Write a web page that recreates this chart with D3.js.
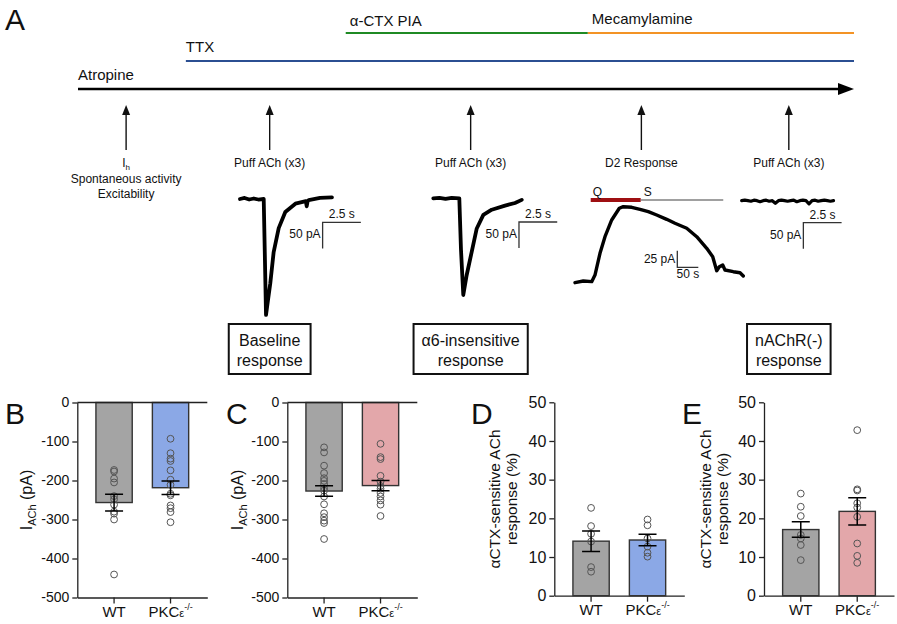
<!DOCTYPE html>
<html><head><meta charset="utf-8">
<script src="https://cdn.jsdelivr.net/npm/d3@7"></script>
<style>
body{margin:0;background:#fff}
svg{display:block}
text{font-family:"Liberation Sans",Arial,Helvetica,sans-serif;fill:#111}
</style>
</head><body>
<svg id="c" width="897" height="624"></svg>
<script>
// ================= DATA =================
// Protocol timeline (arbitrary protocol time, 0..100)
const drugNames = ["Atropine", "TTX", "α-CTX PIA", "Mecamylamine"];
const drugStart = [0, 13.9, 34.5, 65.7];
const drugEnd   = [100, 100, 65.7, 100];
const eventTimes = [6.2, 24.7, 50.6, 72.6, 91.6];
const eventLabels = [["I_h", "Spontaneous activity", "Excitability"], ["Puff ACh (x3)"], ["Puff ACh (x3)"], ["D2 Response"], ["Puff ACh (x3)"]];
const boxLabels = [["Baseline", "response"], ["α6-insensitive", "response"], ["nAChR(-)", "response"]];
const boxEvents = [1, 2, 4];

// Example traces: [time (s), current (pA)]
const traceBaseline = [[0,0],[0.3,2],[0.6,-1],[0.9,1],[1.2,-1],[1.55,0],[1.63,-117],[1.70,-223],[1.83,-194],[1.98,-162],[2.20,-102],[2.53,-56],[2.96,-25],[3.62,-9],[4.30,-4],[4.36,-14],[4.42,-4],[4.49,-2],[5.23,2],[6.01,3]];
const traceA6 = [[0,0],[0.4,1],[0.8,-1],[1.2,1],[1.70,0],[1.81,-99],[1.96,-186],[2.18,-148],[2.51,-103],[2.84,-58],[3.27,-32],[3.82,-22],[4.69,-14],[5.34,-9],[5.78,-3]];
const traceD2 = [[0,-1],[19.8,1.5],[39.8,0.5],[47.6,10.5],[59.5,43.2],[71.4,68.2],[87.4,93.4],[105.5,111],[115,113.4],[135,112.5],[154.8,109.5],[174.5,105.9],[194.5,100.9],[218.3,94.4],[238,88.4],[266,80.9],[289.8,68.2],[313.6,50.8],[327.9,38.1],[337.4,17],[343.6,23],[351.7,25.6],[357.1,18.1],[376.9,15.5],[392.9,14],[400.7,9]];
const noiseNAChR = [0,1,0,-1,1,0,-2,0,1,-1,0,-5,0,1,0,-1,0,1,-2,0,1,0,-6,0,1,-1,0,1,0,-1,0];
const quinpiroleT = [37.4, 156.4];   // Q application (s)
const sulpirideT = [156.4, 353];     // S application (s)

// Bar charts
const groups = ["WT", "PKC"];
const bMean = [-256.5, -218.5], bSem = [21.5, 17.5];
const bWT  = [-173,-177,-195,-205,-240,-248,-262,-280,-285,-300,-441];
const bPKC = [-93,-130,-144,-150,-174,-198,-211,-234,-238,-264,-271,-281,-307];
const cMean = [-227, -213], cSem = [13.5, 13];
const cWT  = [-115,-128,-162,-181,-194,-201,-209,-220,-226,-241,-261,-284,-294,-303,-309,-350];
const cPKC = [-106,-140,-145,-188,-203,-214,-221,-232,-241,-251,-262,-291];
const dMean = [14.1, 14.4], dSem = [2.65, 1.5];
const dWT  = [22.7,18,16,14,7.4,6.2];
const dPKC = [19.7,18.2,14.8,12.7,11.1,10.1];
const eMean = [17.1, 21.8], eSem = [2.0, 3.5];
const eWT  = [26.4,23,20.6,15.7,14.8,13.1,9.2];
const ePKC = [42.8,27.5,27.2,23.9,22.8,20.4,13.5,10.3,8.5];
const negTicks = [0,-100,-200,-300,-400,-500];
const pctTicks = [0,10,20,30,40,50];

// ================= DRAW =================
const svg = d3.select("#c");
const letter = (t, x, y) => svg.append("text").attr("x", x).attr("y", y).attr("font-size", 30).text(t);

// ---- Panel A: timeline ----
letter("A", 5, 30);
const tl = d3.scaleLinear().domain([0, 100]).range([78, 854]);
const drugY = [89, 61, 33, 33];
const drugCol = ["#000", "#2b4f92", "#1f8a24", "#f39325"];
const drugLabY = [80, 52, 26, 24];
const drugLabDx = [0, 0, 4, 4];
drugNames.forEach((n, i) => {
  const x2 = i === 0 ? tl(drugEnd[i]) - 16 : tl(drugEnd[i]);
  svg.append("line").attr("x1", tl(drugStart[i])).attr("x2", x2)
    .attr("y1", drugY[i]).attr("y2", drugY[i])
    .attr("stroke", drugCol[i]).attr("stroke-width", i === 0 ? 2.6 : 2.2);
  svg.append("text").attr("x", tl(drugStart[i]) + drugLabDx[i]).attr("y", drugLabY[i])
    .attr("font-size", 15).text(n);
});
{
  const xe = tl(100);
  svg.append("path").attr("d", `M${xe - 16},${drugY[0] - 6}L${xe},${drugY[0]}L${xe - 16},${drugY[0] + 6}Z`).attr("fill", "#000");
}
eventTimes.forEach((t, i) => {
  const x = tl(t);
  svg.append("line").attr("x1", x).attr("x2", x).attr("y1", 150).attr("y2", 112)
    .attr("stroke", "#111").attr("stroke-width", 1.4);
  svg.append("path").attr("d", `M${x - 4},${115}L${x},${105}L${x + 4},${115}Z`).attr("fill", "#111");
  eventLabels[i].forEach((s, j) => {
    const tx = svg.append("text").attr("x", x).attr("y", 167 + j * 15.5)
      .attr("text-anchor", "middle").attr("font-size", 12);
    if (s === "I_h") {
      tx.append("tspan").text("I");
      tx.append("tspan").attr("font-size", 8).attr("dy", 3).text("h");
    } else tx.text(s);
  });
});
boxLabels.forEach((lines, i) => {
  const cx = tl(eventTimes[boxEvents[i]]);
  const g = svg.append("g");
  const texts = lines.map((s, j) => g.append("text").attr("x", cx).attr("y", 346 + j * 19.5)
    .attr("text-anchor", "middle").attr("font-size", 16).text(s));
  const w = d3.max(texts, t => t.node().getComputedTextLength()) + 16;
  g.insert("rect", "text").attr("x", cx - w / 2).attr("y", 324).attr("width", w).attr("height", 50)
    .attr("fill", "#fff").attr("stroke", "#111").attr("stroke-width", 2);
});

// ---- traces ----
function drawTrace(data, x0, yb, pxS, pxPA, bar) {
  const x = d3.scaleLinear().domain([0, 1]).range([x0, x0 + pxS]);
  const y = d3.scaleLinear().domain([0, 1]).range([yb, yb - pxPA]);
  svg.append("path").attr("d", d3.line().x(d => x(d[0])).y(d => y(d[1]))(data))
    .attr("fill", "none").attr("stroke", "#000").attr("stroke-width", bar.sw || 3.8)
    .attr("stroke-linejoin", "round").attr("stroke-linecap", "round");
  const bx = x(bar.t), by = y(bar.I);
  if (bar.up) {
    svg.append("path").attr("d", `M${bx},${y(bar.I + bar.dI)}V${by}H${x(bar.t + bar.dt)}`)
      .attr("fill", "none").attr("stroke", "#333").attr("stroke-width", 1.3);
    svg.append("text").attr("x", bx - 2).attr("y", (y(bar.I + bar.dI) + by) / 2 + 4)
      .attr("text-anchor", "end").attr("font-size", 12).text(bar.vLabel);
    svg.append("text").attr("x", (bx + x(bar.t + bar.dt)) / 2).attr("y", by + 11)
      .attr("text-anchor", "middle").attr("font-size", 12).text(bar.hLabel);
  } else {
    svg.append("path").attr("d", `M${x(bar.t + bar.dt)},${by}H${bx}V${y(bar.I - bar.dI)}`)
      .attr("fill", "none").attr("stroke", "#333").attr("stroke-width", 1.3);
    svg.append("text").attr("x", (bx + x(bar.t + bar.dt)) / 2).attr("y", by - 4)
      .attr("text-anchor", "middle").attr("font-size", 12).text(bar.hLabel);
    svg.append("text").attr("x", bx - 2).attr("y", by + 16)
      .attr("text-anchor", "end").attr("font-size", 12).text(bar.vLabel);
  }
  return {x, y};
}
drawTrace(traceBaseline, 240, 199, 15.3, 0.52, {t: 5.4, I: -45, dt: 2.5, dI: 50, hLabel: "2.5 s", vLabel: "50 pA"});
drawTrace(traceA6, 433.3, 198.3, 15.3, 0.52, {t: 5.6, I: -45.6, dt: 2.5, dI: 50, hLabel: "2.5 s", vLabel: "50 pA"});
const d2 = drawTrace(traceD2, 575, 282, 0.42, 0.664, {up: true, t: 243.6, I: 22.1, dt: 50, dI: 25, hLabel: "50 s", vLabel: "25 pA", sw: 3.4});
svg.append("line").attr("x1", d2.x(sulpirideT[0])).attr("x2", d2.x(sulpirideT[1]))
  .attr("y1", 200).attr("y2", 200).attr("stroke", "#808080").attr("stroke-width", 1.6);
svg.append("line").attr("x1", d2.x(quinpiroleT[0])).attr("x2", d2.x(quinpiroleT[1]))
  .attr("y1", 200).attr("y2", 200).attr("stroke", "#9e0f12").attr("stroke-width", 4);
svg.append("text").attr("x", d2.x(quinpiroleT[0]) + 2).attr("y", 196).attr("font-size", 12).text("Q");
svg.append("text").attr("x", d2.x(quinpiroleT[1]) + 3).attr("y", 196).attr("font-size", 12).text("S");
const nData = noiseNAChR.map((v, i) => [i * 0.2, v]);
drawTrace(nData, 741.7, 200.7, 15.3, 0.52, {t: 4.03, I: -42.3, dt: 2.5, dI: 50, hLabel: "2.5 s", vLabel: "50 pA", sw: 3.2});

// ---- bar panels ----
function pkcLabel(sel) {
  sel.append("tspan").text("PKC");
  sel.append("tspan").attr("font-size", 11).text("ε");
  sel.append("tspan").attr("font-size", 9).attr("dy", -7).text("-/-");
}
function barPanel(o) {
  const x = d3.scaleBand().domain(groups).range([o.x0, o.x0 + 130]).paddingInner(0.357).paddingOuter(0.33);
  const y = d3.scaleLinear().domain(o.domain).range([o.yBot, o.yTop]);
  const g = svg.append("g");
  const ya = g.append("g").attr("transform", `translate(${o.x0},0)`)
    .call(d3.axisLeft(y).tickValues(o.ticks).tickSize(5).tickPadding(3).tickSizeOuter(0).tickFormat(d => String(d)));
  ya.selectAll("text").attr("font-size", o.tickFs).attr("fill", "#111").attr("font-family", null);
  ya.selectAll("line,path").attr("stroke", "#222").attr("stroke-width", 1.3);
  const xa = g.append("g").attr("transform", `translate(0,${o.yBot})`)
    .call(d3.axisBottom(x).tickSize(6).tickSizeOuter(0).tickFormat(""));
  xa.selectAll("line,path").attr("stroke", "#222").attr("stroke-width", 1.3);
  groups.forEach(k => {
    const t = g.append("text").attr("x", x(k) + x.bandwidth() / 2).attr("y", o.yBot + 19)
      .attr("text-anchor", "middle").attr("font-size", 15);
    if (k === "WT") t.text("WT"); else pkcLabel(t);
  });
  groups.forEach((k, i) => {
    const m = o.mean[i];
    g.append("rect").attr("x", x(k)).attr("width", x.bandwidth())
      .attr("y", Math.min(y(0), y(m))).attr("height", Math.abs(y(m) - y(0)))
      .attr("fill", o.colors[i]).attr("stroke", "#333").attr("stroke-width", 1.4);
  });
  if (o.domain[0] < 0) {
    g.append("line").attr("x1", o.x0).attr("x2", o.x0 + 130).attr("y1", y(0)).attr("y2", y(0))
      .attr("stroke", "#222").attr("stroke-width", 1.3);
  }
  groups.forEach((k, i) => {
    g.selectAll(null).data(o.dots[i]).join("circle")
      .attr("cx", x(k) + x.bandwidth() / 2).attr("cy", d => y(d)).attr("r", 3.4)
      .attr("fill", "none").attr("stroke", "#555").attr("stroke-width", 1);
  });
  groups.forEach((k, i) => {
    const cx = x(k) + x.bandwidth() / 2, m = o.mean[i], s = o.sem[i];
    g.append("path").attr("d", `M${cx},${y(m - s)}V${y(m + s)}M${cx - 9},${y(m - s)}H${cx + 9}M${cx - 9},${y(m + s)}H${cx + 9}`)
      .attr("stroke", "#000").attr("stroke-width", 1.5).attr("fill", "none");
  });
  if (o.ylab === "I") {
    const t = g.append("text").attr("transform", `translate(${o.labX},${(o.yTop + o.yBot) / 2}) rotate(-90)`)
      .attr("text-anchor", "middle").attr("dy", "0.35em").attr("font-size", 16);
    t.append("tspan").text("I");
    t.append("tspan").attr("font-size", 11).attr("dy", 4).text("ACh");
    t.append("tspan").attr("dy", -4).text(" (pA)");
  } else {
    ["αCTX-sensitive ACh", "response (%)"].forEach((s, j) => {
      g.append("text").attr("transform", `translate(${o.labX + j * 16.5},${(o.yTop + o.yBot) / 2}) rotate(-90)`)
        .attr("text-anchor", "middle").attr("dy", "0.35em").attr("font-size", 15.5).text(s);
    });
  }
  letter(o.letter, o.lx, 424);
}
barPanel({x0: 77.3, yTop: 402.5, yBot: 597.5, domain: [-500, 0], ticks: negTicks, tickFs: 14,
  mean: bMean, sem: bSem, dots: [bWT, bPKC], colors: ["#a4a4a4", "#8ba8e6"], ylab: "I", labX: 26, letter: "B", lx: 5});
barPanel({x0: 287.3, yTop: 402.5, yBot: 597.5, domain: [-500, 0], ticks: negTicks, tickFs: 14,
  mean: cMean, sem: cSem, dots: [cWT, cPKC], colors: ["#a4a4a4", "#e3a7aa"], ylab: "I", labX: 237, letter: "C", lx: 226});
barPanel({x0: 554.3, yTop: 402.3, yBot: 595.7, domain: [0, 50], ticks: pctTicks, tickFs: 16,
  mean: dMean, sem: dSem, dots: [dWT, dPKC], colors: ["#a4a4a4", "#8ba8e6"], ylab: "P", labX: 495, letter: "D", lx: 471});
barPanel({x0: 764, yTop: 402.3, yBot: 595.7, domain: [0, 50], ticks: pctTicks, tickFs: 16,
  mean: eMean, sem: eSem, dots: [eWT, ePKC], colors: ["#a4a4a4", "#e3a7aa"], ylab: "P", labX: 706, letter: "E", lx: 682});
</script>
</body></html>
